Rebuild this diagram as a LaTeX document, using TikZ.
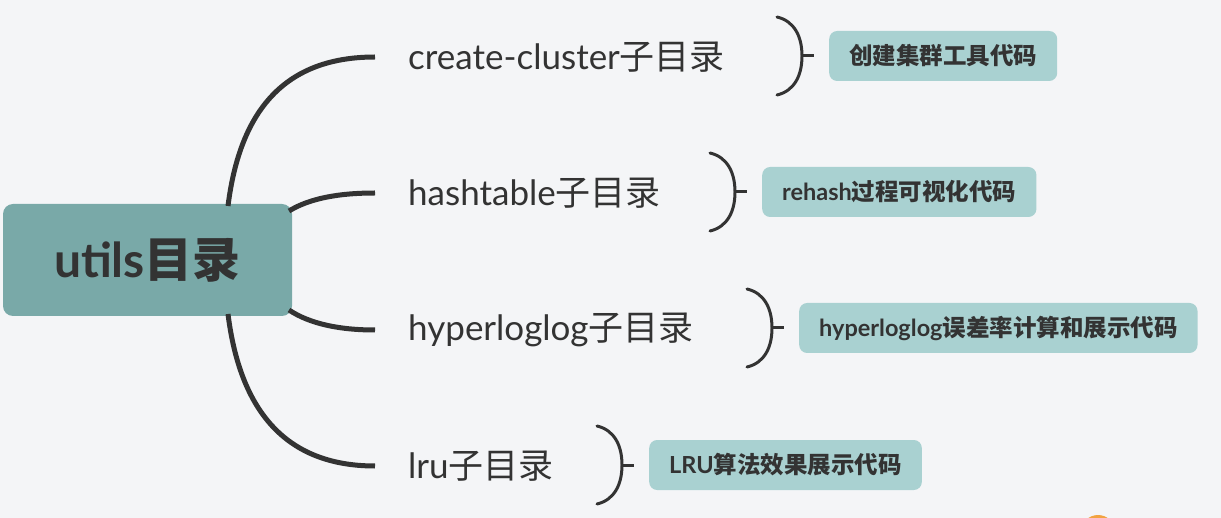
\documentclass[tikz,border=0pt]{standalone}
\usepackage{fontspec}
\setmainfont{Lato}
\newfontfamily\cjk{Noto Sans CJK SC}
\newfontfamily\cjkb{Noto Sans CJK SC Bold}
\definecolor{bgc}{HTML}{F4F5F7}
\definecolor{rootc}{HTML}{79A9A8}
\definecolor{labc}{HTML}{A9D1D1}
\definecolor{ink}{HTML}{333333}
\definecolor{orng}{HTML}{F2A341}
\begin{document}
\begin{tikzpicture}[x=1pt,y=-1pt,
  rootbox/.style={fill=rootc, rounded corners=10pt, minimum width=289pt, minimum height=112pt, text=ink, font=\fontsize{48}{52}\selectfont\bfseries, inner sep=0pt},
  child/.style={anchor=west, inner sep=0pt, text=ink, font=\fontsize{35}{40}\selectfont},
  lab/.style={fill=labc, rounded corners=8pt, minimum height=50pt, text=ink, font=\fontsize{23.5}{26}\selectfont\bfseries, inner xsep=20pt, anchor=west},
  branch/.style={draw=ink, line width=5pt},
  brace/.style={draw=ink, line width=3pt, line cap=round}
]
\useasboundingbox (0,0) rectangle (1221,518);
\fill[bgc] (0,0) rectangle (1221,518);
\begin{scope}
\clip (0,0) rectangle (1221,518);
\fill[orng] (1098,532) circle (17);
\end{scope}

\node[rootbox] (root) at (147.5,260) {utils{\cjkb 目录}};

\node[child] (c1) at (408,57) {create-cluster{\cjk 子目录}};
\node[child] (c2) at (408,193) {hashtable{\cjk 子目录}};
\node[child] (c3) at (408,330) {hyperloglog{\cjk 子目录}};
\node[child] (c4) at (408,466) {lru{\cjk 子目录}};

\coordinate (s1) at (228,206);
\coordinate (s2) at (289,211);
\coordinate (s3) at (289,310);
\coordinate (s4) at (228,314);

\draw[branch] (s1) .. controls (240,110) and (285,57) .. ([xshift=-33pt]c1.west);
\draw[branch] (s2) .. controls (310,198) and (340,193) .. ([xshift=-33pt]c2.west);
\draw[branch] (s3) .. controls (310,324) and (340,330) .. ([xshift=-33pt]c3.west);
\draw[branch] (s4) .. controls (240,410) and (285,466) .. ([xshift=-33pt]c4.west);

\node[lab] (l1) at (829,56) {\cjkb 创建集群工具代码};
\node[lab] (l2) at (762,192) {rehash{\cjkb 过程可视化代码}};
\node[lab] (l3) at (799,328) {hyperloglog{\cjkb 误差率计算和展示代码}};
\node[lab] (l4) at (649,465) {LRU{\cjkb 算法效果展示代码}};

\foreach \l in {l1,l2,l3,l4}{
  \draw[brace] ([xshift=-52pt,yshift=-39pt]\l.west) .. controls ([xshift=-35pt,yshift=-35pt]\l.west) and ([xshift=-27pt,yshift=-20pt]\l.west) .. ([xshift=-27pt]\l.west)
     .. controls ([xshift=-27pt,yshift=20pt]\l.west) and ([xshift=-35pt,yshift=35pt]\l.west) .. ([xshift=-52pt,yshift=39pt]\l.west);
  \draw[draw=ink, line width=3pt] ([xshift=-27pt]\l.west) -- ([xshift=-15pt]\l.west);
}
\end{tikzpicture}
\end{document}
